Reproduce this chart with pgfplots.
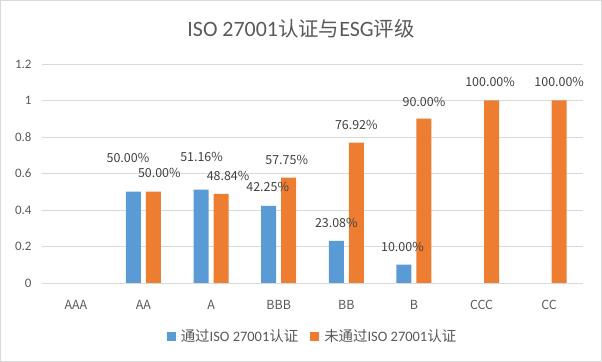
\documentclass[border=0pt]{standalone}
\usepackage{pgfplots}
\pgfplotsset{compat=1.18}
\usepackage{pgfplotstable}
\usepackage{fontspec}
\setmainfont{Carlito}
\newfontfamily\cjk{Noto Sans CJK SC}
\definecolor{cblue}{HTML}{5B9BD5}
\definecolor{corange}{HTML}{ED7D31}
\definecolor{cgrid}{HTML}{D9D9D9}
\definecolor{ctext}{HTML}{595959}
\definecolor{clab}{HTML}{404040}

% zero-valued bars (AAA, CCC, CC for the first series; AAA for the second) are invisible and unlabelled
\pgfplotstableread{
x y lab dx dy
1 0.5 50.00 -5.5 34
2 0.5116 51.16 0.5 32.6
3 0.4225 42.25 -1 19
4 0.2308 23.08 0 18
5 0.1 10.00 -1.5 17.8
}\blueT

\pgfplotstableread{
x y lab dx dy
1 0.5 50.00 5.9 18.75
2 0.4884 48.84 7 18
3 0.5775 57.75 -2 17.6
4 0.7692 76.92 0 17.6
5 0.9 90.00 0 16.75
6 1 100.00 -1.5 18.5
7 1 100.00 0 18.5
}\orangeT

\begin{document}
\begin{tikzpicture}
\draw[cgrid, line width=0.75bp] (0.375bp,0.375bp) rectangle (601.625bp,361.625bp);
\node[text=ctext, font=\fontsize{22}{26}\selectfont] at (301bp,333bp) {ISO 27001{\cjk\fontsize{20.5}{24}\selectfont 认证与}ESG{\cjk\fontsize{20.5}{24}\selectfont 评级}};
\begin{axis}[
  at={(42bp,79bp)}, anchor=south west, scale only axis,
  width=541bp, height=219bp,
  ybar=5bp, bar width=15bp,
  xmin=-0.5, xmax=7.5, ymin=0, ymax=1.2,
  xtick={0,1,2,3,4,5,6,7}, xticklabels={AAA,AA,A,BBB,BB,B,CCC,CC},
  ytick={0,0.2,0.4,0.6,0.8,1,1.2}, yticklabels={0,0.2,0.4,0.6,0.8,1,1.2},
  ymajorgrids, grid style={cgrid, line width=0.75bp},
  axis line style={draw=none},
  major tick length=0pt,
  yticklabel style={font=\fontsize{13}{15}\selectfont, text=ctext, xshift=-7bp},
  xticklabel style={font=\cjk\fontsize{12.5}{14}\selectfont, text=ctext, yshift=-14bp},
  legend style={at={(0.5,0)}, anchor=center, yshift=-53bp, draw=none, legend columns=2,
    font=\fontsize{14.5}{17}\selectfont, text=ctext,
    /tikz/every even column/.append style={column sep=10bp}},
  legend image code/.code={\path (0bp,0bp) -- (12bp,0bp);\fill[#1] (0bp,-4.5bp) rectangle (9bp,4.5bp);},
]
\addplot[fill=cblue, draw=none,
  point meta=explicit symbolic,
  visualization depends on={\thisrow{dx} \as \labdx},
  visualization depends on={\thisrow{dy} \as \labdy},
  nodes near coords={\pgfplotspointmeta\%},
  every node near coord/.append style={anchor=center, xshift=\labdx bp, yshift=\labdy bp, font=\cjk\fontsize{12.5}{14}\selectfont, text=clab}]
  table[x=x, y=y, meta=lab] {\blueT};
\addlegendentry{{\cjk 通过}ISO 27001{\cjk 认证}}
\addplot[fill=corange, draw=none,
  point meta=explicit symbolic,
  visualization depends on={\thisrow{dx} \as \labdx},
  visualization depends on={\thisrow{dy} \as \labdy},
  nodes near coords={\pgfplotspointmeta\%},
  every node near coord/.append style={anchor=center, xshift=\labdx bp, yshift=\labdy bp, font=\cjk\fontsize{12.5}{14}\selectfont, text=clab}]
  table[x=x, y=y, meta=lab] {\orangeT};
\addlegendentry{{\cjk 未通过}ISO 27001{\cjk 认证}}
\end{axis}
\end{tikzpicture}
\end{document}
